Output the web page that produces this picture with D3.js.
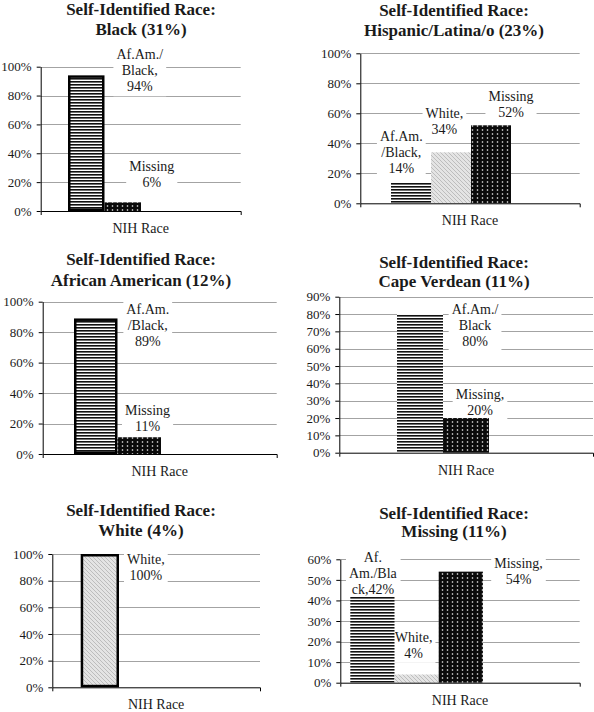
<!DOCTYPE html>
<html>
<head>
<meta charset="utf-8">
<script src="https://cdn.jsdelivr.net/npm/d3@7"></script>
<style>
  html, body { margin: 0; padding: 0; background: #fff; }
  svg { display: block; }
  text { font-family: "Liberation Serif", "Times New Roman", serif; fill: #1a1a1a; }
</style>
</head>
<body>
<svg id="chart" width="594" height="712"></svg>
<script>
// ---------- DATA ----------
const titleLine1 = ["Self-Identified Race:", "Self-Identified Race:", "Self-Identified Race:", "Self-Identified Race:", "Self-Identified Race:", "Self-Identified Race:"];
const titleLine2 = ["Black (31%)", "Hispanic/Latina/o (23%)", "African American (12%)", "Cape Verdean (11%)", "White (4%)", "Missing (11%)"];
const categoryLabel = "NIH Race";

const panelSeries = [
  ["Af.Am./Black", "Missing"],
  ["Af.Am./Black", "White", "Missing"],
  ["Af.Am./Black", "Missing"],
  ["Af.Am./Black", "Missing"],
  ["White"],
  ["Af.Am./Black", "White", "Missing"]
];
const panelValues = [
  [94, 6],
  [14, 34, 52],
  [89, 11],
  [80, 20],
  [100],
  [42, 4, 54]
];
const axisMax = [100, 100, 100, 90, 100, 60];
const axisStep = [20, 20, 20, 10, 20, 10];
const labelLines = [
  [["Af.Am./", "Black,", "94%"], ["Missing", "6%"]],
  [["Af.Am.", "/Black,", "14%"], ["White,", "34%"], ["Missing", "52%"]],
  [["Af.Am.", "/Black,", "89%"], ["Missing", "11%"]],
  [["Af.Am./", "Black", "80%"], ["Missing,", "20%"]],
  [["White,", "100%"]],
  [["Af.", "Am./Bla", "ck,42%"], ["White,", "4%"], ["Missing,", "54%"]]
];
const outlinedBar = [true, false, true, false, true, false];

// ---------- LAYOUT (positions / styles only) ----------
const layout = [
  { left: 40.7,  right: 240.7, top: 66.7,  bottom: 211,   barX: 68,    barW: 36.5, tx: 141, ty: [9, 29] },
  { left: 360.3, right: 579.7, top: 53.3,  bottom: 203.3, barX: 391,   barW: 40,   tx: 454, ty: [10, 30] },
  { left: 42.7,  right: 276.7, top: 301.7, bottom: 454,   barX: 74,    barW: 43.5, tx: 141, ty: [259, 280] },
  { left: 339.3, right: 593,   top: 296.7, bottom: 452.7, barX: 397,   barW: 46,   tx: 454, ty: [262, 281] },
  { left: 52.3,  right: 260,   top: 554,   bottom: 687.3, barX: 80.7,  barW: 38.3, tx: 141, ty: [510, 530] },
  { left: 340.3, right: 579.7, top: 559.3, bottom: 682.7, barX: 350.3, barW: 44.2, tx: 454, ty: [513, 531] }
];
// label block centre offsets from each bar's top-centre [dx, dy]
const labelOffsets = [
  [[53.5, -5], [29, -28]],
  [[-9.7, -30], [-6.6, -31], [20, -21]],
  [[52, 6.5], [8.3, -18.8]],
  [[55, 11], [14, -15.5]],
  [[46, 13.5]],
  [[0.5, -23], [-3, -29.5], [57.7, -0.6]]
];

const svg = d3.select("#chart");
const defs = svg.append("defs");

// horizontal stripes
const ph = defs.append("pattern").attr("id", "hstripe").attr("patternUnits", "userSpaceOnUse")
  .attr("width", 6).attr("height", 3);
ph.append("rect").attr("width", 6).attr("height", 3).attr("fill", "#fff");
ph.append("rect").attr("width", 6).attr("height", 1.6).attr("fill", "#111");

// light diagonal hatch
const pd = defs.append("pattern").attr("id", "diag").attr("patternUnits", "userSpaceOnUse")
  .attr("width", 4).attr("height", 4);
pd.append("rect").attr("width", 4).attr("height", 4).attr("fill", "#e4e4e4");
pd.append("path").attr("d", "M-1,-1 L5,5 M-1,3 L1,5 M3,-1 L5,1").attr("stroke", "#bdbdbd").attr("stroke-width", 1);

// black with white dots
const pdot = defs.append("pattern").attr("id", "dots").attr("patternUnits", "userSpaceOnUse")
  .attr("width", 5).attr("height", 4);
pdot.append("rect").attr("width", 5).attr("height", 4).attr("fill", "#0a0a0a");
pdot.append("circle").attr("cx", 2.5).attr("cy", 2).attr("r", 0.8).attr("fill", "#fff");

const seriesFill = { "Af.Am./Black": "url(#hstripe)", "White": "url(#diag)", "Missing": "url(#dots)" };

panelSeries.forEach((series, p) => {
  const L = layout[p];
  const g = svg.append("g");
  const values = panelValues[p];

  const y = d3.scaleLinear().domain([0, axisMax[p]]).range([L.bottom, L.top]);
  const x = d3.scaleBand().domain(series).range([L.barX, L.barX + series.length * L.barW]).padding(0);
  const cat = d3.scaleBand().domain([categoryLabel]).range([L.left, L.right]);
  const ticks = d3.range(0, axisMax[p] + 0.001, axisStep[p]);

  // title
  g.append("text").attr("x", L.tx).attr("y", L.ty[0]).attr("dy", "0.35em")
    .attr("text-anchor", "middle").attr("font-size", 17).attr("font-weight", "bold").text(titleLine1[p]);
  g.append("text").attr("x", L.tx).attr("y", L.ty[1]).attr("dy", "0.35em")
    .attr("text-anchor", "middle").attr("font-size", 17).attr("font-weight", "bold").text(titleLine2[p]);

  // gridlines
  g.append("g").selectAll("line").data(ticks.filter(t => t > 0)).join("line")
    .attr("x1", L.left).attr("x2", L.right)
    .attr("y1", d => Math.round(y(d)) + 0.5).attr("y2", d => Math.round(y(d)) + 0.5)
    .attr("stroke", "#a3a3a3").attr("stroke-width", 1);

  // label groups (text measured first so boxes can mask gridlines)
  const labelG = g.append("g");
  const boxG = labelG.append("g");
  const txtG = labelG.append("g");
  series.forEach((s, i) => {
    const cx = x(s) + x.bandwidth() / 2 + labelOffsets[p][i][0];
    const cy = y(values[i]) + labelOffsets[p][i][1];
    const lines = labelLines[p][i];
    const lh = 16;
    const t = txtG.append("text").attr("text-anchor", "middle").attr("font-size", 14);
    lines.forEach((ln, k) => {
      t.append("tspan").attr("x", cx).attr("y", cy + (k - (lines.length - 1) / 2) * lh).attr("dy", "0.35em").text(ln);
    });
    const bb = t.node().getBBox();
    boxG.append("rect").attr("x", bb.x - 3).attr("y", bb.y - 2).attr("width", bb.width + 6).attr("height", bb.height + 4)
      .attr("fill", "#fff");
  });

  // bars
  g.append("g").selectAll("rect").data(series.map((s, i) => ({ s, v: values[i], i }))).join("rect")
    .attr("x", d => x(d.s) + (outlinedBar[p] && d.i === 0 ? 1.25 : 0))
    .attr("y", d => y(d.v) + (outlinedBar[p] && d.i === 0 ? 1.25 : 0))
    .attr("width", d => x.bandwidth() - (outlinedBar[p] && d.i === 0 ? 2.5 : 0))
    .attr("height", d => y(0) - y(d.v) - (outlinedBar[p] && d.i === 0 ? 2.5 : 0))
    .attr("fill", d => seriesFill[d.s])
    .attr("stroke", d => outlinedBar[p] && d.i === 0 ? "#000" : "none")
    .attr("stroke-width", 2.5);

  // raise label text above bars
  txtG.raise();

  // y axis
  const ya = g.append("g").attr("transform", `translate(${L.left},0)`)
    .call(d3.axisLeft(y).tickValues(ticks).tickSize(4).tickSizeOuter(0).tickPadding(5).tickFormat(d => d + "%"));
  ya.selectAll("text").attr("font-size", 13).attr("font-family", "Liberation Serif, serif").attr("fill", "#1a1a1a");
  ya.selectAll("line, path").attr("stroke", "#000");

  // x axis
  const xa = g.append("g").attr("transform", `translate(0,${L.bottom})`)
    .call(d3.axisBottom(cat).tickSizeInner(0).tickSizeOuter(4).tickPadding(12));
  xa.selectAll("text").attr("font-size", 14).attr("font-family", "Liberation Serif, serif").attr("fill", "#1a1a1a");
  xa.selectAll("line, path").attr("stroke", "#000");
});
</script>
</body>
</html>
